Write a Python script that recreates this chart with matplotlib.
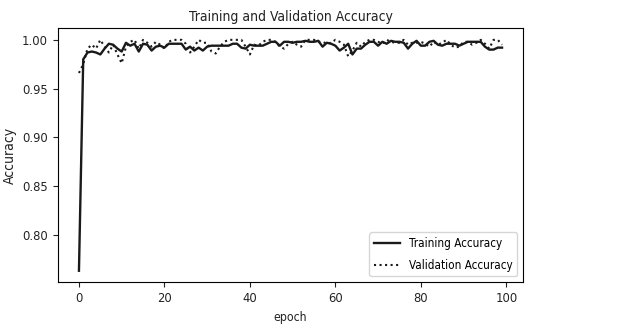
import matplotlib
matplotlib.use("Agg")
import matplotlib.pyplot as plt

epochs = list(range(100))
train_acc = [0.763, 0.980, 0.987, 0.988, 0.987, 0.985, 0.991, 0.996, 0.995, 0.991,
             0.988, 0.997, 0.994, 0.996, 0.988, 0.996, 0.995, 0.989, 0.993, 0.994,
             0.992, 0.996, 0.996, 0.996, 0.996, 0.990, 0.993, 0.989, 0.992, 0.989,
             0.993, 0.994, 0.994, 0.994, 0.994, 0.994, 0.996, 0.996, 0.992, 0.991,
             0.995, 0.994, 0.994, 0.994, 0.996, 0.998, 0.998, 0.994, 0.998, 0.998,
             0.997, 0.998, 0.998, 0.999, 0.998, 0.998, 0.999, 0.993, 0.997, 0.996,
             0.994, 0.989, 0.992, 0.996, 0.985, 0.991, 0.991, 0.995, 0.998, 0.998,
             0.994, 0.998, 0.996, 0.999, 0.998, 0.998, 0.997, 0.991, 0.996, 0.999,
             0.994, 0.994, 0.998, 0.999, 0.995, 0.994, 0.996, 0.996, 0.996, 0.994,
             0.996, 0.998, 0.998, 0.998, 0.998, 0.993, 0.990, 0.990, 0.992, 0.992]
val_acc = [0.966, 0.975, 0.991, 0.995, 0.991, 1.000, 0.993, 0.987, 0.995, 0.985,
           0.976, 0.993, 0.998, 1.000, 0.991, 1.000, 0.997, 0.993, 0.998, 0.995,
           0.991, 0.998, 1.000, 1.000, 1.000, 0.996, 0.987, 0.993, 1.000, 0.997,
           0.997, 0.988, 0.986, 0.993, 0.998, 1.000, 1.000, 1.000, 1.000, 0.993,
           0.985, 0.995, 0.994, 0.998, 1.000, 1.000, 0.998, 0.993, 0.991, 0.996,
           0.998, 0.995, 0.993, 1.000, 1.000, 1.000, 0.998, 0.998, 0.996, 0.997,
           1.000, 0.998, 0.995, 0.983, 0.989, 0.997, 0.993, 0.998, 1.000, 1.000,
           0.998, 0.996, 1.000, 0.998, 0.997, 0.997, 1.000, 0.995, 0.997, 0.997,
           0.998, 0.996, 0.993, 0.998, 0.995, 0.997, 1.000, 0.995, 0.992, 0.993,
           0.998, 0.998, 0.995, 0.997, 1.000, 0.996, 0.991, 1.000, 1.000, 0.995]

plt.rcParams["font.family"] = "DejaVu Sans"
plt.rcParams["font.stretch"] = "condensed"

fig = plt.figure(figsize=(6.42, 3.27), dpi=100)
ax = fig.add_axes([57.8 / 642, 1 - 282.3 / 327, (523.2 - 57.8) / 642, (282.3 - 28.3) / 327])
ax.plot(epochs, train_acc, color="#1a1a1a", linestyle="-", linewidth=1.7, label="Training Accuracy")
ax.plot(epochs, val_acc, color="#1a1a1a", linestyle=":", linewidth=1.5, label="Validation Accuracy")
ax.set_title("Training and Validation Accuracy", fontsize=10, color="#222222", pad=5)
ax.set_xlabel("epoch", fontsize=8.8, color="#222222")
ax.set_ylabel("Accuracy", fontsize=10, color="#222222")
ax.set_yticks([0.80, 0.85, 0.90, 0.95, 1.00])
ax.tick_params(labelsize=9.3, colors="#222222")
ax.legend(loc="lower right", fontsize=8.4, labelspacing=0.75, handlelength=2.2)
fig.savefig("out.png", dpi=100)
